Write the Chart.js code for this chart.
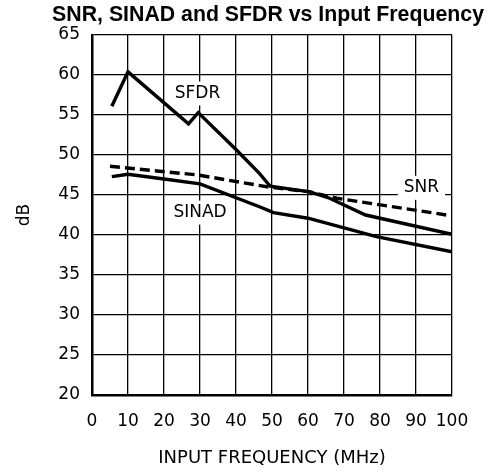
<!DOCTYPE html>
<html>
<head>
<meta charset="utf-8">
<script src="https://cdn.jsdelivr.net/npm/chart.js@4/dist/chart.umd.min.js"></script>
<style>
  html, body { margin: 0; padding: 0; background: #fff; }
  #wrap { width: 492px; height: 474px; }
</style>
</head>
<body>
<div id="wrap"><canvas id="snrChart"></canvas></div>
<script>
const xTicks = [0, 10, 20, 30, 40, 50, 60, 70, 80, 90, 100];
const yTicks = [20, 25, 30, 35, 40, 45, 50, 55, 60, 65];

const sfdrFreq = [5.5, 10, 26.8, 29.5, 40, 46.5, 49.5, 60.5, 66, 76, 100];
const sfdrDb   = [56.1, 60.4, 53.9, 55.3, 50.7, 47.7, 46.1, 45.4, 44.6, 42.5, 40.1];

const snrFreq = [5, 29.5, 49, 60.5, 68, 100];
const snrDb   = [48.6, 47.5, 46.0, 45.4, 44.6, 42.4];

const sinadFreq = [5.5, 10, 20, 30, 46.7, 50.4, 60, 79, 100];
const sinadDb   = [47.3, 47.6, 47.0, 46.4, 43.5, 42.8, 42.1, 39.8, 37.9];

const curveLabels = ['SFDR', 'SINAD', 'SNR'];
const labelFreq = [29.3, 30, 91.5];
const labelDb = [57.7, 42.8, 45.9];

function toPoints(xs, ys) {
    return xs.map(function(x, i) { return { x: x, y: ys[i] }; });
}

const labelFont = '17px "DejaVu Sans"';

const curveLabelPlugin = {
    id: 'curveLabels',
    beforeDatasetsDraw: function(chart) {
        const ctx = chart.ctx;
        const xs = chart.scales.x;
        const ys = chart.scales.y;
        ctx.save();
        ctx.font = labelFont;
        ctx.textAlign = 'center';
        ctx.textBaseline = 'middle';
        curveLabels.forEach(function(text, i) {
            const px = xs.getPixelForValue(labelFreq[i]);
            const py = ys.getPixelForValue(labelDb[i]);
            const w = ctx.measureText(text).width + 12;
            const h = 24;
            ctx.fillStyle = '#fff';
            ctx.fillRect(px - w / 2, py - h / 2, w, h);
            ctx.fillStyle = '#000';
            ctx.fillText(text, px, py);
        });
        ctx.restore();
    }
};

const ctx = document.getElementById('snrChart').getContext('2d');

new Chart(ctx, {
    type: 'line',
    data: {
        datasets: [
            {
                label: 'SFDR',
                data: toPoints(sfdrFreq, sfdrDb),
                borderColor: '#000',
                borderWidth: 3.4,
                pointRadius: 0,
                tension: 0
            },
            {
                label: 'SNR',
                data: toPoints(snrFreq, snrDb),
                borderColor: '#000',
                borderWidth: 3.4,
                borderDash: [10, 5],
                pointRadius: 0,
                tension: 0
            },
            {
                label: 'SINAD',
                data: toPoints(sinadFreq, sinadDb),
                borderColor: '#000',
                borderWidth: 3.4,
                pointRadius: 0,
                tension: 0
            }
        ]
    },
    options: {
        responsive: true,
        maintainAspectRatio: false,
        animation: false,
        layout: {
            padding: { left: 0, right: 8, top: 0, bottom: 0 }
        },
        plugins: {
            legend: { display: false },
            tooltip: { enabled: false },
            title: {
                display: true,
                text: 'SNR, SINAD and SFDR vs Input Frequency',
                align: 'end',
                color: '#000',
                font: { family: '"Liberation Sans", Arial, sans-serif', size: 21.3, weight: 'bold' },
                padding: { top: 2, bottom: 7.5 }
            }
        },
        scales: {
            x: {
                type: 'linear',
                min: 0,
                max: 100,
                afterBuildTicks: function(scale) {
                    scale.ticks = xTicks.map(function(v) { return { value: v }; });
                },
                afterFit: function(scale) {
                    scale.height = 79;
                    scale.paddingRight = 40;
                },
                grid: { color: '#000', lineWidth: 1.3, drawTicks: false },
                border: { color: '#000', width: 2.5 },
                ticks: {
                    color: '#000',
                    padding: 16,
                    maxRotation: 0,
                    autoSkip: false,
                    font: { family: '"DejaVu Sans"', size: 17 }
                },
                title: {
                    display: true,
                    text: 'INPUT FREQUENCY (MHz)',
                    color: '#000',
                    font: { family: '"DejaVu Sans"', size: 18 },
                    padding: { top: 0, bottom: 5 }
                }
            },
            y: {
                min: 20,
                max: 65,
                afterBuildTicks: function(scale) {
                    scale.ticks = yTicks.map(function(v) { return { value: v }; });
                },
                afterFit: function(scale) {
                    scale.width = 92;
                },
                grid: { color: '#000', lineWidth: 1.3, drawTicks: false },
                border: { color: '#000', width: 2.5 },
                ticks: {
                    color: '#000',
                    padding: 12,
                    font: { family: '"DejaVu Sans"', size: 17 }
                },
                title: {
                    display: true,
                    text: 'dB',
                    color: '#000',
                    font: { family: '"DejaVu Sans"', size: 17 },
                    padding: { top: 14, bottom: 0 }
                }
            }
        }
    },
    plugins: [curveLabelPlugin]
});
</script>
</body>
</html>
